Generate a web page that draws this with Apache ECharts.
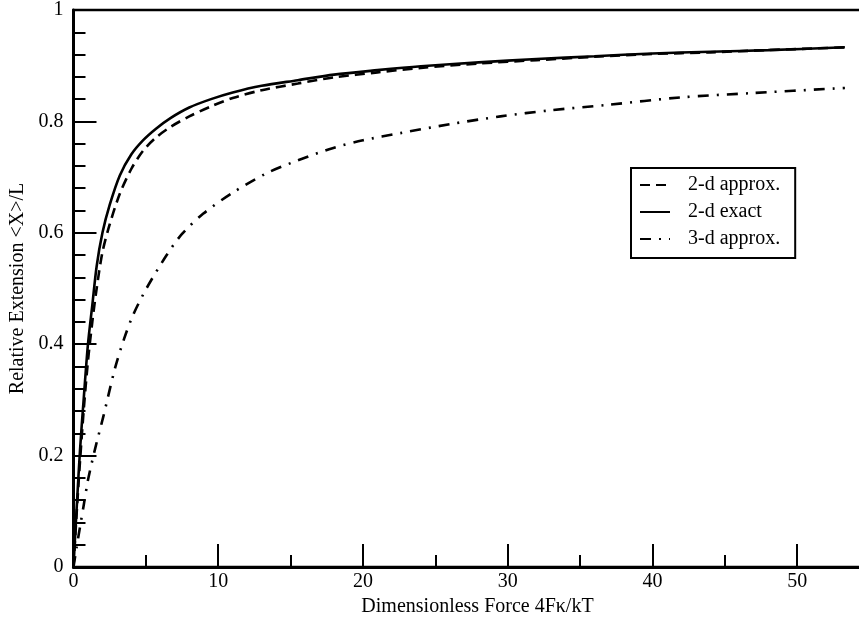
<!DOCTYPE html>
<html>
<head>
<meta charset="utf-8">
<script src="https://cdn.jsdelivr.net/npm/echarts@6/dist/echarts.min.js"></script>
<style>
  html, body { margin: 0; padding: 0; background: #fff; overflow: hidden; }
  /* chart is wider than the window: the right edge of the frame is cut off, as in the original */
  #main { width: 880px; height: 624px; }
</style>
</head>
<body>
<div id="main"></div>
<script>
// 2-d exact (solid)
const exactX = [0, 0.1, 0.25, 0.45, 0.7, 1.0, 1.3, 1.6, 2.0, 2.5, 3.2, 4.0, 4.8, 5.7, 6.7, 8.0, 9.5, 11, 13, 15.5, 18, 21, 24, 28, 32, 36, 40, 44, 48, 53.3]
const exactY = [0, 0.05, 0.12, 0.21, 0.30, 0.40, 0.47, 0.54, 0.60, 0.65, 0.703, 0.741, 0.766, 0.787, 0.806, 0.825, 0.840, 0.852, 0.864, 0.874, 0.884, 0.892, 0.899, 0.906, 0.912, 0.917, 0.922, 0.925, 0.928, 0.933]
// 2-d approx (dashed)
const approx2X = [0, 0.1, 0.25, 0.45, 0.7, 1.0, 1.3, 1.6, 2.0, 2.5, 3.2, 4.0, 4.8, 5.7, 6.7, 8.0, 9.5, 11, 13, 15.5, 18, 21, 24, 28, 32, 36, 40, 44, 48, 53.3]
const approx2Y = [0, 0.045, 0.11, 0.19, 0.28, 0.37, 0.44, 0.50, 0.565, 0.615, 0.67, 0.715, 0.747, 0.771, 0.790, 0.809, 0.827, 0.842, 0.856, 0.868, 0.879, 0.888, 0.896, 0.904, 0.910, 0.916, 0.921, 0.924, 0.928, 0.933]
// 3-d approx (dash-dot)
const approx3X = [0, 0.2, 0.45, 0.7, 1.0, 1.5, 2.06, 2.87, 3.5, 4.11, 5.06, 6.44, 7.5, 8.95, 11, 13.35, 15.5, 17.9, 20, 22.6, 26, 29.5, 33, 37, 41.9, 47, 53.3]
const approx3Y = [0, 0.033, 0.072, 0.11, 0.156, 0.213, 0.27, 0.357, 0.41, 0.452, 0.501, 0.560, 0.598, 0.634, 0.672, 0.707, 0.730, 0.752, 0.766, 0.779, 0.795, 0.809, 0.820, 0.830, 0.843, 0.851, 0.860]

const legendNames = ['2-d approx.', '2-d exact', '3-d approx.']

function pairs(xs, ys) {
  return xs.map((x, i) => [x, ys[i]])
}

const font = '"Liberation Serif", "Times New Roman", serif'

function lineSeries(name, data, type, z) {
  return {
    name: name, type: 'line', data: data,
    showSymbol: false, symbol: 'none', smooth: 0.3,
    itemStyle: { color: '#000' },
    lineStyle: { color: '#000', width: 2.6, type: type }, z: z
  }
}

var myChart = echarts.init(document.getElementById('main'))
myChart.setOption({
  animation: false,
  backgroundColor: '#fff',
  textStyle: { fontFamily: font, color: '#000' },
  grid: {
    left: 73.5, top: 10, width: 796, bottom: 57,
    outerBoundsMode: 'none',
    show: true, borderColor: '#000', borderWidth: 2.5
  },
  legend: {
    data: legendNames,
    orient: 'vertical',
    left: 631, top: 168,
    itemWidth: 30, itemHeight: 20, itemGap: 7,
    padding: [7, 15, 9, 8],
    borderColor: '#000', borderWidth: 2,
    backgroundColor: '#fff',
    itemStyle: { opacity: 0 },
    textStyle: { fontFamily: font, fontSize: 20, color: '#000', padding: [0, 0, 0, 13] }
  },
  xAxis: {
    type: 'value',
    min: 0, max: 55, interval: 10,
    name: 'Dimensionless Force 4Fκ/kT',
    nameLocation: 'middle', nameGap: 22,
    nameTextStyle: { fontFamily: font, fontSize: 20, color: '#000', padding: [0, 0, 0, 12] },
    axisLine: { lineStyle: { color: '#000', width: 3 } },
    axisTick: { inside: true, length: 23, lineStyle: { color: '#000', width: 2 } },
    minorTick: { show: true, splitNumber: 2, length: 12, lineStyle: { color: '#000', width: 2 } },
    axisLabel: { fontFamily: font, fontSize: 20, color: '#000', margin: 5, showMaxLabel: false },
    splitLine: { show: false }
  },
  yAxis: {
    type: 'value',
    min: 0, max: 1, interval: 0.2,
    name: 'Relative Extension <X>/L',
    nameLocation: 'middle', nameGap: 44,
    nameTextStyle: { fontFamily: font, fontSize: 20, color: '#000' },
    axisLine: { lineStyle: { color: '#000', width: 3 } },
    axisTick: { inside: true, length: 23, lineStyle: { color: '#000', width: 2 } },
    minorTick: { show: true, splitNumber: 5, length: 12, lineStyle: { color: '#000', width: 2 } },
    axisLabel: { fontFamily: font, fontSize: 20, color: '#000', margin: 10 },
    splitLine: { show: false }
  },
  series: [
    lineSeries(legendNames[0], pairs(approx2X, approx2Y), [10, 6], 3),
    lineSeries(legendNames[1], pairs(exactX, exactY), 'solid', 4),
    lineSeries(legendNames[2], pairs(approx3X, approx3Y), [11, 8, 2, 8], 2)
  ]
})
</script>
</body>
</html>
